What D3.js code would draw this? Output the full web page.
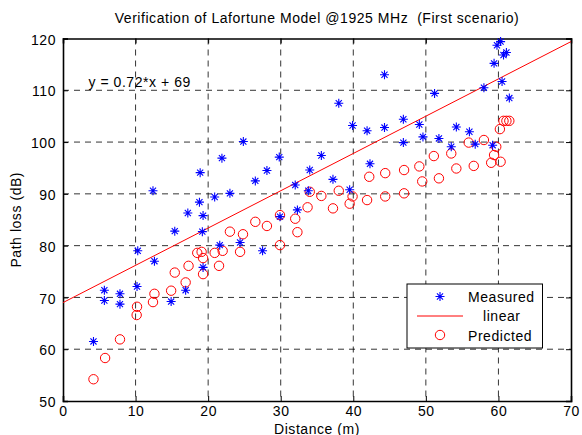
<!DOCTYPE html>
<html>
<head>
<meta charset="utf-8">
<script src="https://cdn.jsdelivr.net/npm/d3@7"></script>
<style>
  html, body { margin: 0; padding: 0; background: #fff; }
  svg { display: block; font-family: "Liberation Sans", Arial, sans-serif; }
</style>
</head>
<body>
<div id="chart"></div>
<script>
// measured path loss [distance m, dB]
const measured = [
  [4.2, 61.5], [5.7, 71.4], [5.7, 69.4], [7.85, 70.7], [7.85, 68.7], [10.2, 72.1],
  [10.3, 79.0], [12.4, 90.6], [12.6, 77.0], [14.9, 69.2], [15.4, 82.8], [16.9, 71.4],
  [17.2, 86.3], [18.8, 88.4], [18.9, 94.1], [19.2, 82.7], [19.3, 85.8], [19.3, 75.8],
  [20.9, 89.4], [21.6, 80.1], [21.9, 96.9], [23.0, 90.1], [24.4, 80.6], [24.85, 100.1],
  [26.5, 92.5], [27.5, 79.0], [28.1, 94.5], [29.8, 97.1], [29.9, 85.6], [32.0, 91.7],
  [32.3, 86.9], [33.8, 90.6], [34.0, 94.6], [35.6, 97.4], [37.2, 92.8], [38.0, 107.5],
  [39.5, 90.8], [39.9, 103.2], [41.9, 102.2], [42.3, 95.8], [44.3, 102.8], [44.3, 113.0],
  [46.9, 104.4], [46.9, 99.9], [49.1, 103.4], [49.6, 101.0], [51.2, 109.4], [51.8, 100.7],
  [53.5, 99.1], [54.2, 102.9], [56.0, 102.0], [56.8, 99.6], [58.0, 110.5], [59.2, 99.4],
  [59.4, 115.2], [59.8, 118.7], [60.3, 119.4], [60.5, 111.7], [60.7, 116.8], [61.1, 117.3],
  [61.5, 108.5]
];

// Lafortune model prediction
const predicted = [
  [4.2, 54.2], [5.8, 58.3], [7.85, 61.9], [10.15, 66.6], [10.2, 68.2], [12.4, 69.1],
  [12.6, 70.7], [14.9, 71.3], [15.4, 74.8], [16.9, 72.9], [17.3, 76.1], [18.5, 78.6],
  [19.1, 78.8], [19.3, 77.6], [19.3, 74.5], [20.9, 78.6], [21.5, 76.1], [22.0, 79.0],
  [23.0, 82.7], [24.4, 78.8], [24.8, 82.2], [26.5, 84.6], [28.1, 83.8], [29.9, 85.9],
  [29.9, 80.1], [32.0, 85.2], [32.3, 82.6], [33.7, 87.4], [34.0, 90.4], [35.6, 89.6],
  [37.2, 87.2], [38.0, 90.6], [39.5, 88.1], [39.9, 89.5], [41.9, 88.8], [42.2, 93.3],
  [44.4, 94.0], [44.4, 89.5], [47.0, 94.6], [47.0, 90.1], [49.1, 95.3], [49.5, 92.4],
  [51.1, 97.3], [51.8, 93.0], [53.5, 97.8], [54.2, 94.9], [55.9, 99.9], [56.6, 95.4],
  [58.0, 100.4], [59.0, 96.0], [59.4, 97.5], [59.7, 99.1], [60.3, 96.2], [60.2, 102.5],
  [60.7, 104.1], [61.1, 104.1], [61.5, 104.1]
];

// linear fit y = 0.72*x + 69
const fitSlope = 0.72;
const fitIntercept = 69;
const fitRange = [0, 70];

const xTicks = [0, 10, 20, 30, 40, 50, 60, 70];
const yTicks = [50, 60, 70, 80, 90, 100, 110, 120];
const legendLabels = ['Measured', 'linear', 'Predicted'];

const W = 582, H = 435;
const margin = { top: 38.5, right: 11, bottom: 34, left: 63 };
const iw = W - margin.left - margin.right;
const ih = H - margin.top - margin.bottom;

const FS = 14;          // matlab text renders a bit wide,
const LS = '0.55px';    // so add some letter spacing
const colors = { measured: '#0000ff', predicted: '#ff0000', fit: '#ff0000', text: '#000' };

const svg = d3.select('#chart').append('svg')
  .attr('width', W).attr('height', H)
  .attr('font-size', FS).attr('letter-spacing', LS);

const g = svg.append('g').attr('transform', `translate(${margin.left},${margin.top})`);

const x = d3.scaleLinear().domain([0, 70]).range([0, iw]);
const y = d3.scaleLinear().domain([50, 120]).range([ih, 0]);

// dashed grid
g.append('g').selectAll('line')
  .data(xTicks.slice(1, -1)).enter().append('line')
  .attr('x1', d => x(d)).attr('x2', d => x(d))
  .attr('y1', 0).attr('y2', ih)
  .attr('stroke', '#000').attr('stroke-width', 0.8)
  .attr('stroke-dasharray', '6,5');
g.append('g').selectAll('line')
  .data(yTicks.slice(1, -1)).enter().append('line')
  .attr('x1', 0).attr('x2', iw)
  .attr('y1', d => y(d)).attr('y2', d => y(d))
  .attr('stroke', '#000').attr('stroke-width', 0.8)
  .attr('stroke-dasharray', '6,5');

// axes, ticks pointing inward like matlab
g.append('g').attr('transform', `translate(0,${ih})`)
  .call(d3.axisBottom(x).tickValues(xTicks).tickSize(-5).tickPadding(5));
const yAxis = g.append('g')
  .call(d3.axisLeft(y).tickValues(yTicks).tickSize(-5).tickPadding(7));
g.append('g').call(d3.axisTop(x).tickValues(xTicks).tickSize(-5).tickFormat(''));
g.append('g').attr('transform', `translate(${iw},0)`)
  .call(d3.axisRight(y).tickValues(yTicks).tickSize(-5).tickFormat(''));

g.selectAll('.domain').attr('stroke', '#000').attr('stroke-width', 1.6);
g.selectAll('.tick line').attr('stroke', '#000');
g.selectAll('.tick text').attr('font-size', FS).attr('fill', colors.text)
  .attr('font-family', '"Liberation Sans", Arial, sans-serif');
yAxis.selectAll('.tick text').attr('dy', '0.4em');

// fit line
g.append('line')
  .attr('x1', x(fitRange[0])).attr('y1', y(fitSlope * fitRange[0] + fitIntercept))
  .attr('x2', x(fitRange[1])).attr('y2', y(fitSlope * fitRange[1] + fitIntercept))
  .attr('stroke', colors.fit).attr('stroke-width', 1);

function starPath(s) {
  const d = s * 0.68;
  return `M${-s},0L${s},0M0,${-s}L0,${s}M${-d},${-d}L${d},${d}M${-d},${d}L${d},${-d}`;
}

// predicted circles
g.append('g').selectAll('circle')
  .data(predicted).enter().append('circle')
  .attr('cx', d => x(d[0])).attr('cy', d => y(d[1]))
  .attr('r', 4.7)
  .attr('fill', 'none').attr('stroke', colors.predicted).attr('stroke-width', 1);

// measured stars
g.append('g').selectAll('path')
  .data(measured).enter().append('path')
  .attr('transform', d => `translate(${x(d[0])},${y(d[1])})`)
  .attr('d', starPath(4.5))
  .attr('fill', 'none').attr('stroke', colors.measured).attr('stroke-width', 1.1);

// equation label
g.append('text')
  .attr('x', x(3.5)).attr('y', y(110.6))
  .attr('fill', colors.text)
  .text(`y = ${fitSlope}*x + ${fitIntercept}`);

// legend
const lg = svg.append('g').attr('transform', 'translate(407,284)');
lg.append('rect').attr('width', 135.5).attr('height', 64)
  .attr('fill', '#fff').attr('stroke', '#000').attr('stroke-width', 1);
lg.append('path').attr('transform', 'translate(33,12.5)')
  .attr('d', starPath(4.5)).attr('fill', 'none')
  .attr('stroke', colors.measured).attr('stroke-width', 1.1);
lg.append('line').attr('x1', 10).attr('x2', 56).attr('y1', 32).attr('y2', 32)
  .attr('stroke', colors.fit).attr('stroke-width', 1);
lg.append('circle').attr('cx', 33).attr('cy', 51).attr('r', 4.7)
  .attr('fill', 'none').attr('stroke', colors.predicted).attr('stroke-width', 1);
lg.selectAll('text.lbl').data(legendLabels).enter().append('text')
  .attr('class', 'lbl')
  .attr('x', (d, i) => i === 1 ? 76 : 61)
  .attr('y', (d, i) => 17.5 + i * 19.5)
  .attr('fill', colors.text)
  .text(d => d);

// title and axis labels
svg.append('text')
  .attr('x', margin.left + iw / 2).attr('y', 23)
  .attr('text-anchor', 'middle').attr('fill', colors.text)
  .attr('xml:space', 'preserve')
  .text('Verification of Lafortune Model @1925 MHz  (First scenario)');
svg.append('text')
  .attr('x', margin.left + iw / 2).attr('y', 434)
  .attr('text-anchor', 'middle').attr('fill', colors.text)
  .text('Distance (m)');
svg.append('text')
  .attr('transform', `translate(21,${margin.top + ih / 2}) rotate(-90)`)
  .attr('text-anchor', 'middle').attr('fill', colors.text)
  .text('Path loss (dB)');
</script>
</body>
</html>
